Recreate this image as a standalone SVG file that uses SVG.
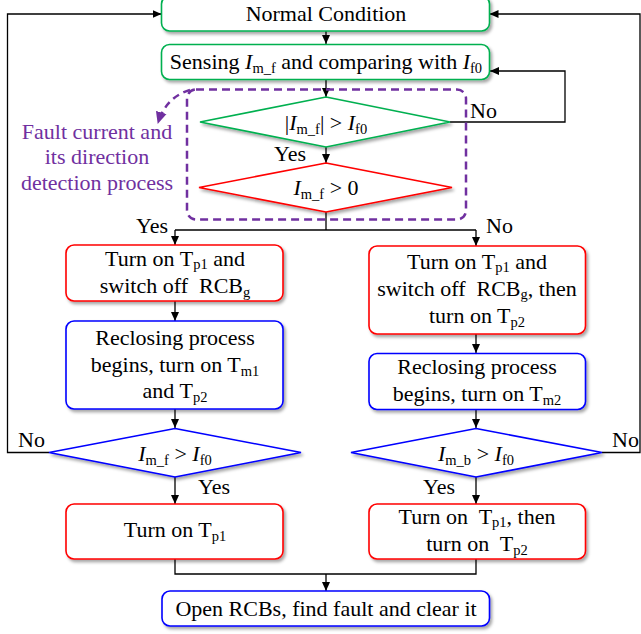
<svg xmlns="http://www.w3.org/2000/svg" width="641" height="634" viewBox="0 0 641 634">
<style>
text{font-family:"Liberation Serif","Times New Roman",serif;font-size:22px;fill:#000}
.c{text-anchor:middle}
.i{font-style:italic}
.s{font-size:14.5px}
.box{fill:#fff;stroke-width:1.6;filter:url(#sh)}
.g{stroke:#00B050}
.r{stroke:#FF0000}
.b{stroke:#0000FF}
.ln{fill:none;stroke:#000;stroke-width:1.3}
.pt{fill:#7030A0}
</style>
<defs>
<filter id="sh" x="-10%" y="-10%" width="125%" height="140%">
<feDropShadow dx="2" dy="2.5" stdDeviation="1.5" flood-color="#000" flood-opacity="0.35"/>
</filter>
<marker id="ar" markerWidth="10" markerHeight="10" refX="9" refY="5" orient="auto" markerUnits="userSpaceOnUse">
<path d="M0,1 L9,5 L0,9 Z" fill="#000"/>
</marker>
<marker id="pa" markerWidth="14" markerHeight="14" refX="11" refY="7" orient="auto" markerUnits="userSpaceOnUse">
<path d="M0,1.5 L12,7 L0,12.5 Z" fill="#7030A0"/>
</marker>
</defs>

<g id="connectors">
<line class="ln" x1="326" y1="31" x2="326" y2="44" marker-end="url(#ar)"/>
<line class="ln" x1="326" y1="79" x2="326" y2="97" marker-end="url(#ar)"/>
<polyline class="ln" points="450,122 565,122 565,71 490,71" marker-end="url(#ar)"/>
<line class="ln" x1="326" y1="147" x2="326" y2="163" marker-end="url(#ar)"/>
<polyline class="ln" points="326,212 326,230"/>
<polyline class="ln" points="175,230 476,230"/>
<line class="ln" x1="175" y1="230" x2="175" y2="245" marker-end="url(#ar)"/>
<line class="ln" x1="476" y1="230" x2="476" y2="246" marker-end="url(#ar)"/>
<line class="ln" x1="175" y1="301" x2="175" y2="321" marker-end="url(#ar)"/>
<line class="ln" x1="476" y1="334" x2="476" y2="353" marker-end="url(#ar)"/>
<line class="ln" x1="175" y1="409" x2="175" y2="428" marker-end="url(#ar)"/>
<line class="ln" x1="476" y1="409" x2="476" y2="428" marker-end="url(#ar)"/>
<polyline class="ln" points="49,452.5 7.5,452.5 7.5,14 161.5,14" marker-end="url(#ar)"/>
<polyline class="ln" points="602,452.5 640,452.5 640,14 489.5,14" marker-end="url(#ar)"/>
<line class="ln" x1="175" y1="477" x2="175" y2="504" marker-end="url(#ar)"/>
<line class="ln" x1="476" y1="477" x2="476" y2="504" marker-end="url(#ar)"/>
<polyline class="ln" points="175,559 175,574 476,574 476,559"/>
<line class="ln" x1="326" y1="574" x2="326" y2="591" marker-end="url(#ar)"/>
</g>

<g id="group-fault">
<rect x="187" y="89.5" width="279" height="130" rx="9" fill="none" stroke="#7030A0" stroke-width="2.5" stroke-dasharray="8,5"/>
<path d="M190,90 Q166,97 158,123" fill="none" stroke="#7030A0" stroke-width="2.5" stroke-dasharray="7,5" marker-end="url(#pa)"/>
<text class="c pt" x="97" y="139">Fault current and</text>
<text class="c pt" x="97" y="164">its direction</text>
<text class="c pt" x="97" y="190">detection process</text>
</g>

<g id="normal">
<rect class="box g" x="161.5" y="-4" width="328" height="35" rx="8"/>
<text class="c" x="326" y="21">Normal Condition</text>
</g>

<g id="sensing">
<rect class="box g" x="161.5" y="44.5" width="328" height="35" rx="8"/>
<text class="c" x="326" y="69">Sensing <tspan class="i">I</tspan><tspan class="s" dy="4">m_f</tspan><tspan dy="-4"> and comparing with </tspan><tspan class="i">I</tspan><tspan class="s" dy="4">f0</tspan></text>
</g>

<g id="dec1">
<polygon class="box g" points="326,97 450,122 326,147 200,122"/>
<text class="c" x="326" y="130">|<tspan class="i">I</tspan><tspan class="s" dy="4">m_f</tspan><tspan dy="-4">| &gt; </tspan><tspan class="i">I</tspan><tspan class="s" dy="4">f0</tspan></text>
<text x="470" y="118">No</text>
<text x="274" y="161">Yes</text>
</g>

<g id="dec2">
<polygon class="box r" points="326,163 452,187.5 326,212 199,187.5"/>
<text class="c" x="326" y="195"><tspan class="i">I</tspan><tspan class="s" dy="4">m_f</tspan><tspan dy="-4"> &gt; 0</tspan></text>
<text x="136" y="233">Yes</text>
<text x="486" y="233">No</text>
</g>

<g id="left1">
<rect class="box r" x="66" y="245" width="217" height="56" rx="8"/>
<text class="c" x="175" y="266">Turn on T<tspan class="s" dy="3">p1</tspan><tspan dy="-3"> and</tspan></text>
<text class="c" x="175" y="293">switch off&#160; RCB<tspan class="s" dy="3.5">g</tspan></text>
</g>

<g id="left2">
<rect class="box b" x="66" y="321" width="217" height="88" rx="8"/>
<text class="c" x="175" y="345">Reclosing process</text>
<text class="c" x="175" y="372">begins, turn on T<tspan class="s" dy="3.5">m1</tspan></text>
<text class="c" x="175" y="398">and T<tspan class="s" dy="3.5">p2</tspan></text>
</g>

<g id="right1">
<rect class="box r" x="369" y="246" width="216.5" height="88" rx="8"/>
<text class="c" x="477" y="269">Turn on T<tspan class="s" dy="3">p1</tspan><tspan dy="-3"> and</tspan></text>
<text class="c" x="477" y="296">switch off&#160; RCB<tspan class="s" dy="3">g</tspan><tspan dy="-3">, then</tspan></text>
<text class="c" x="477" y="323">turn on T<tspan class="s" dy="3.5">p2</tspan></text>
</g>

<g id="right2">
<rect class="box b" x="369" y="353.5" width="216.5" height="56" rx="8"/>
<text class="c" x="477" y="374">Reclosing process</text>
<text class="c" x="477" y="401">begins, turn on T<tspan class="s" dy="3.5">m2</tspan></text>
</g>

<g id="dec4">
<polygon class="box b" points="476,428.5 602,452.5 476,477 351,452.5"/>
<text class="c" x="476" y="461"><tspan class="i">I</tspan><tspan class="s" dy="4">m_b</tspan><tspan dy="-4"> &gt; </tspan><tspan class="i">I</tspan><tspan class="s" dy="4">f0</tspan></text>
<text x="612" y="447">No</text>
<text x="423" y="494">Yes</text>
</g>

<g id="dec3">
<polygon class="box b" points="175,428.5 301,452.5 175,477 49,452.5"/>
<text class="c" x="175" y="461"><tspan class="i">I</tspan><tspan class="s" dy="4">m_f</tspan><tspan dy="-4"> &gt; </tspan><tspan class="i">I</tspan><tspan class="s" dy="4">f0</tspan></text>
<text x="18" y="447">No</text>
<text x="198" y="494">Yes</text>
</g>

<g id="left3">
<rect class="box r" x="66" y="504" width="217" height="55" rx="8"/>
<text class="c" x="175" y="537">Turn on T<tspan class="s" dy="4">p1</tspan></text>
</g>

<g id="right3">
<rect class="box r" x="369" y="504" width="216.5" height="55" rx="8"/>
<text class="c" x="477" y="524">Turn on&#160; T<tspan class="s" dy="3">p1</tspan><tspan dy="-3">, then</tspan></text>
<text class="c" x="477" y="551">turn on&#160; T<tspan class="s" dy="3.5">p2</tspan></text>
</g>

<g id="final">
<rect class="box b" x="162" y="591" width="327.5" height="35" rx="8"/>
<text class="c" x="326" y="616">Open RCBs, find fault and clear it</text>
</g>
</svg>
